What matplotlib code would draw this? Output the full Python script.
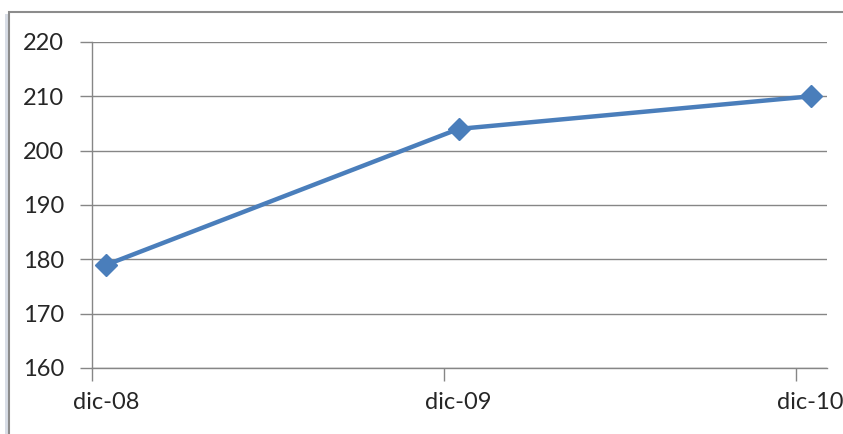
import matplotlib.pyplot as plt
import datetime as dt
from matplotlib.patches import Rectangle

# mid-December readings, one per year
dates = [dt.date(2008, 12, 16), dt.date(2009, 12, 16), dt.date(2010, 12, 16)]
values = [179, 204, 210]
tick_dates = [dt.date(2008, 12, 1), dt.date(2009, 12, 1), dt.date(2010, 12, 1)]
tick_labels = ["dic-08", "dic-09", "dic-10"]

plt.rcParams['font.family'] = ['Lato', 'DejaVu Sans']
fig = plt.figure(figsize=(8.43, 4.34), dpi=100)

# chart frame with a faint shadow on the left
fig.patches.append(Rectangle((5 / 843, -0.1), 4 / 843, 1.1 - 14 / 434, transform=fig.transFigure,
                             facecolor='#d8dde6', edgecolor='none', zorder=0))
fig.patches.append(Rectangle((9 / 843, -0.1), 1.2, 1.1 - 12 / 434, transform=fig.transFigure,
                             facecolor='white', edgecolor='#8c8c8c', linewidth=1.5, zorder=1))

ax = fig.add_axes([92 / 843, 1 - 368 / 434, (827 - 92) / 843, (368 - 42) / 434])
ax.set_zorder(2)
ax.patch.set_alpha(0)

ax.plot(dates, values, color='#4a7ebb', linewidth=3.2, marker='D', markersize=11,
        markerfacecolor='#4a7ebb', markeredgecolor='#4a7ebb', zorder=3, clip_on=False)

ax.set_ylim(160, 220)
ax.set_yticks(range(160, 221, 10))
ax.set_xlim(dt.date(2008, 12, 1), dt.date(2011, 1, 2))

ax.set_xticks(tick_dates)
ax.set_xticklabels([])
ax.set_xticks(dates, minor=True)
ax.set_xticklabels(tick_labels, minor=True)
ax.tick_params(axis='x', which='minor', length=0, pad=17, labelsize=17, labelcolor='#262626')
ax.tick_params(axis='x', which='major', length=9, width=1, color='#868686')
ax.tick_params(axis='y', length=9, width=1, color='#868686', pad=11, labelsize=17, labelcolor='#262626')

ax.grid(axis='y', color='#868686', linewidth=1)
for s in ['top', 'right']:
    ax.spines[s].set_visible(False)
for s in ['left', 'bottom']:
    ax.spines[s].set_color('#868686')
    ax.spines[s].set_linewidth(1)

fig.savefig('out.png', dpi=100)
